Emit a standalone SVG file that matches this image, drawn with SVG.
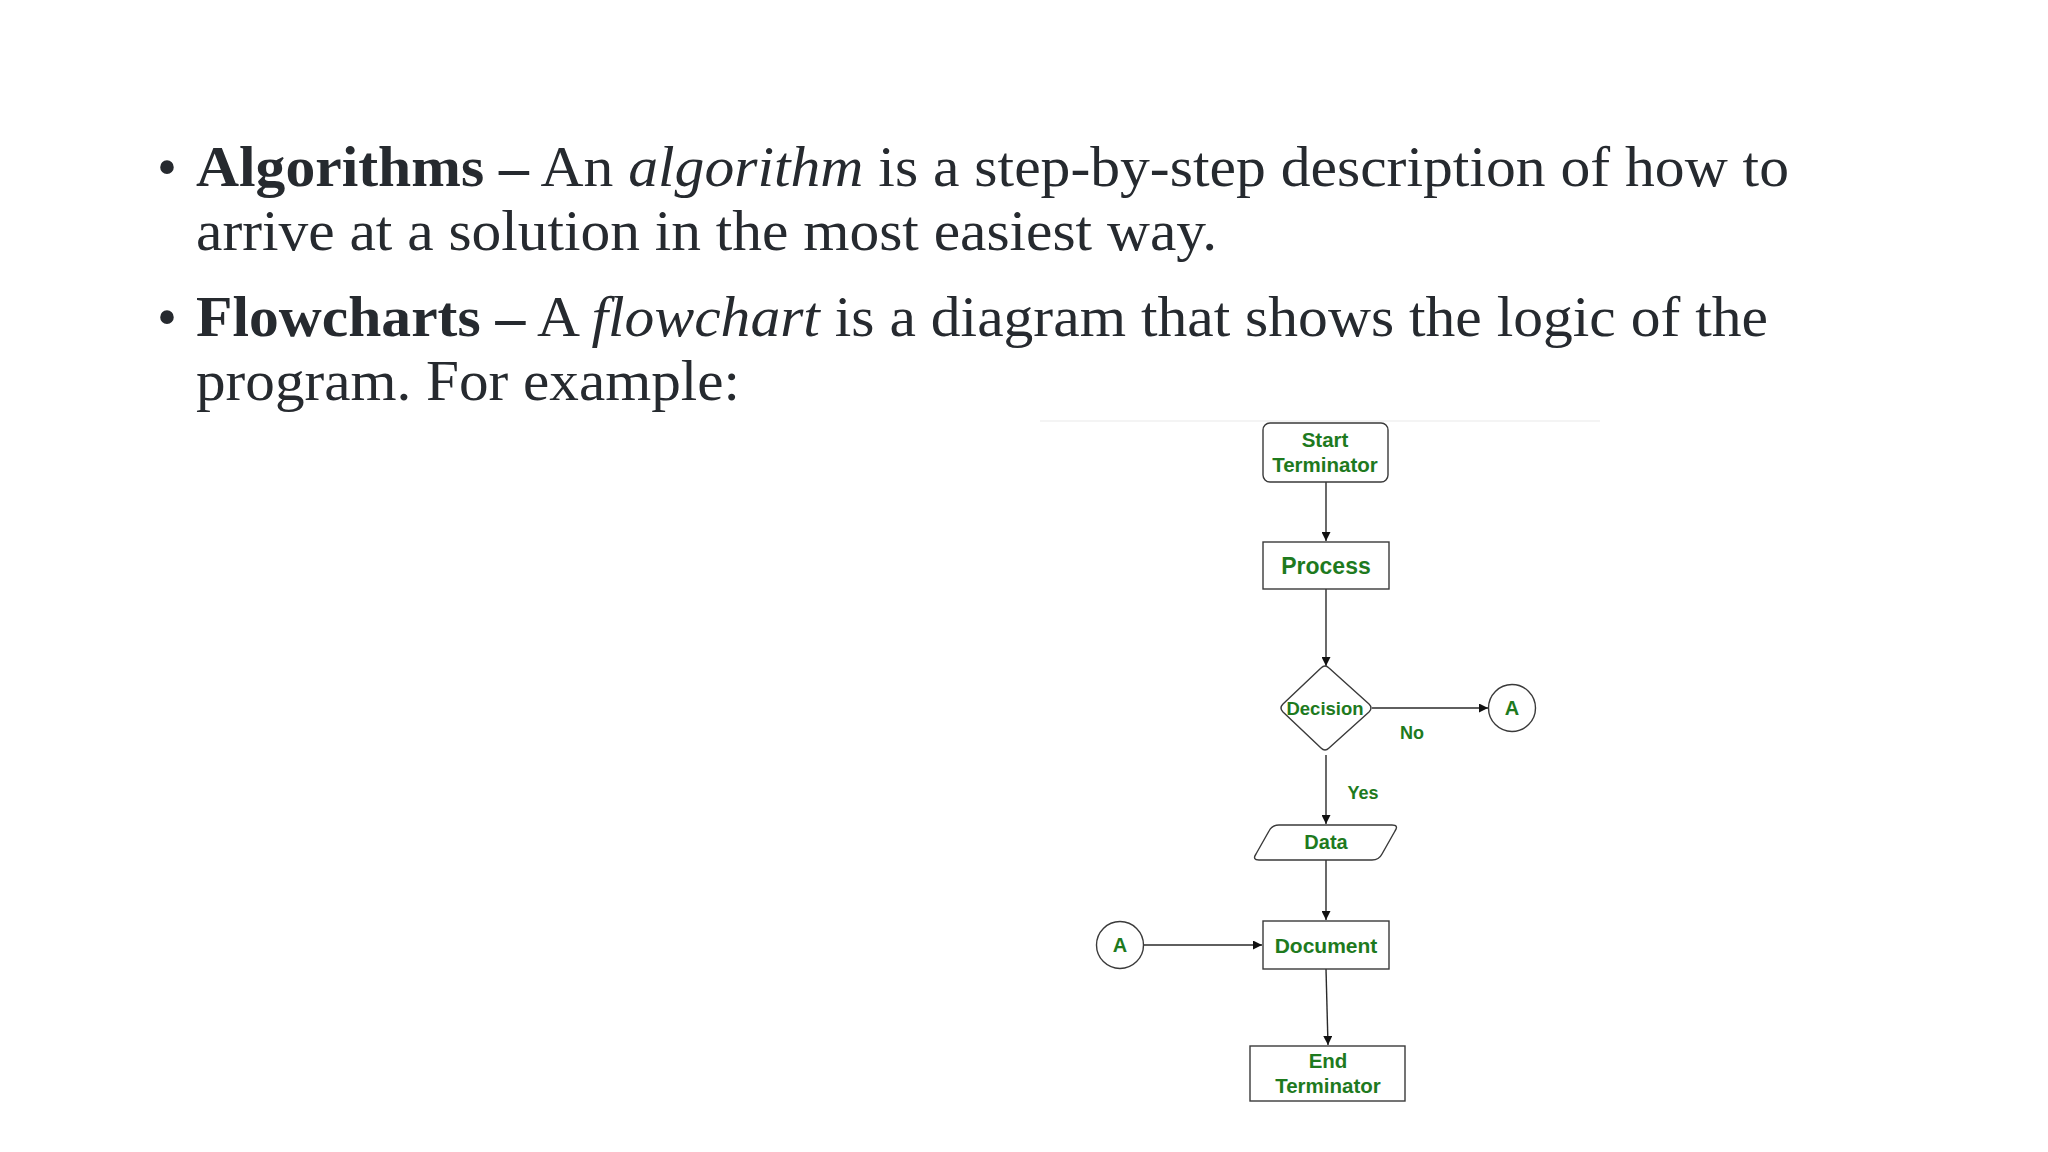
<svg xmlns="http://www.w3.org/2000/svg" width="2048" height="1152" viewBox="0 0 2048 1152">
<defs>
<style>
.body{font-family:"Liberation Serif","Times New Roman",serif;font-size:57px;fill:#262a2f}
.b{font-weight:bold}
.i{font-style:italic}
.lbl{font-family:"Liberation Sans",Arial,sans-serif;font-weight:bold;fill:#1e7a1e;text-anchor:middle}
.shape{fill:#ffffff;stroke:#3a3a3a;stroke-width:1.4}
.conn{fill:none;stroke:#2a2a2a;stroke-width:1.4}
</style>
<marker id="arr" viewBox="0 0 10 10" refX="10" refY="5" markerWidth="9" markerHeight="9" markerUnits="userSpaceOnUse" orient="auto">
<path d="M0,0 L10,5 L0,10 z" fill="#111"/>
</marker>
</defs>
<rect width="2048" height="1152" fill="#ffffff"/>

<g id="text-block">
<text class="body" x="157" y="186">•</text>
<text class="body" x="196" y="186" textLength="1593" lengthAdjust="spacingAndGlyphs"><tspan class="b">Algorithms –</tspan> An <tspan class="i">algorithm</tspan> is a step-by-step description of how to</text>
<text class="body" x="196" y="250" textLength="1021" lengthAdjust="spacingAndGlyphs">arrive at a solution in the most easiest way.</text>
<text class="body" x="157" y="336">•</text>
<text class="body" x="196" y="336" textLength="1572" lengthAdjust="spacingAndGlyphs"><tspan class="b">Flowcharts –</tspan> A <tspan class="i">flowchart</tspan> is a diagram that shows the logic of the</text>
<text class="body" x="196" y="400" textLength="544" lengthAdjust="spacingAndGlyphs">program. For example:</text>
</g>

<line x1="1040" y1="421" x2="1600" y2="421" stroke="#f1f1f1" stroke-width="1.5"/>

<g id="connectors">
<line class="conn" x1="1326" y1="482" x2="1326" y2="541" marker-end="url(#arr)"/>
<line class="conn" x1="1326" y1="589" x2="1326" y2="666" marker-end="url(#arr)"/>
<line class="conn" x1="1372" y1="708" x2="1488" y2="708" marker-end="url(#arr)"/>
<line class="conn" x1="1326" y1="755" x2="1326" y2="824" marker-end="url(#arr)"/>
<line class="conn" x1="1326" y1="860" x2="1326" y2="920" marker-end="url(#arr)"/>
<line class="conn" x1="1144" y1="945" x2="1262" y2="945" marker-end="url(#arr)"/>
<line class="conn" x1="1326" y1="969" x2="1328" y2="1045" marker-end="url(#arr)"/>
<text class="lbl" x="1412" y="739" font-size="18">No</text>
<text class="lbl" x="1363" y="799" font-size="18">Yes</text>
</g>

<g id="start">
<rect class="shape" x="1263" y="423" width="125" height="59" rx="7"/>
<text class="lbl" x="1325" y="447" font-size="20.5">Start</text>
<text class="lbl" x="1325" y="472" font-size="20.5">Terminator</text>
</g>

<g id="process">
<rect class="shape" x="1263" y="542" width="126" height="47"/>
<text class="lbl" x="1326" y="574" font-size="23">Process</text>
</g>

<g id="decision">
<path class="shape" stroke-linejoin="round" d="M1321,668 Q1325,664 1329,668 L1369,704 Q1373,708 1369,712 L1329,748 Q1325,752 1321,748 L1283,712 Q1279,708 1283,704 Z"/>
<text class="lbl" x="1325" y="715" font-size="18.5">Decision</text>
</g>

<g id="connector-a-right">
<circle class="shape" cx="1512" cy="708" r="23.5"/>
<text class="lbl" x="1512" y="715" font-size="20">A</text>
</g>

<g id="data">
<path class="shape" d="M1279,825 L1392,825 Q1399,825 1395,831 L1382,854 Q1379,860 1372,860 L1259,860 Q1252,860 1256,854 L1269,831 Q1272,825 1279,825 Z"/>
<text class="lbl" x="1326" y="849" font-size="20">Data</text>
</g>

<g id="document">
<rect class="shape" x="1263" y="921" width="126" height="48"/>
<text class="lbl" x="1326" y="953" font-size="21">Document</text>
</g>

<g id="connector-a-left">
<circle class="shape" cx="1120" cy="945" r="23.5"/>
<text class="lbl" x="1120" y="952" font-size="20">A</text>
</g>

<g id="end">
<rect class="shape" x="1250" y="1046" width="155" height="55"/>
<text class="lbl" x="1328" y="1068" font-size="20.5">End</text>
<text class="lbl" x="1328" y="1093" font-size="20.5">Terminator</text>
</g>
</svg>
